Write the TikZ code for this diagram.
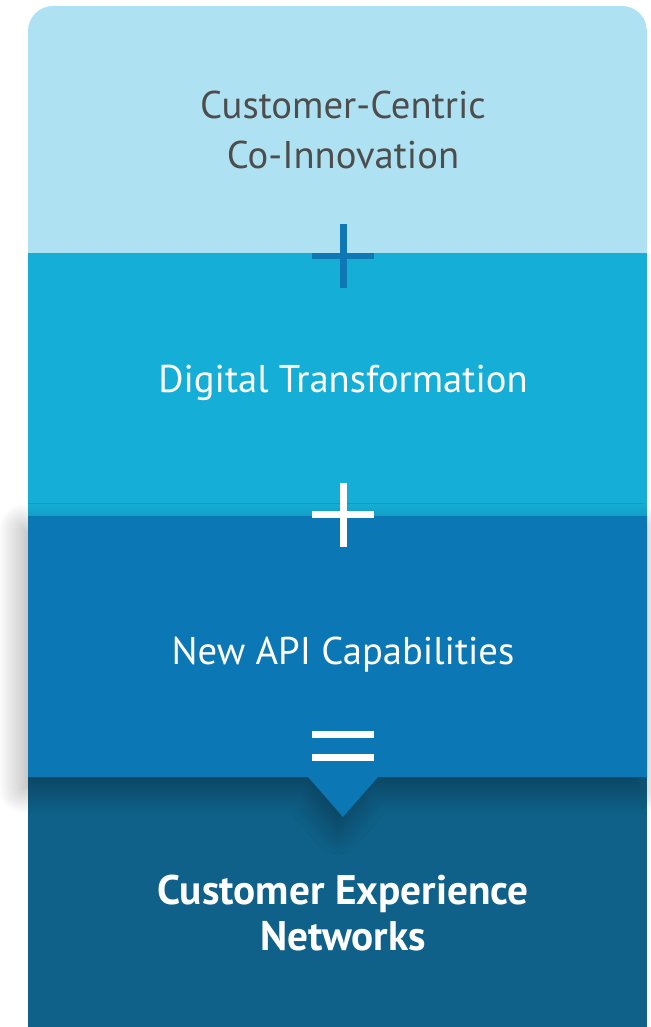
\documentclass[tikz,border=0pt]{standalone}
\usepackage{fontspec}
\setmainfont{PT Sans}
\usetikzlibrary{shadows.blur}
\definecolor{bandA}{HTML}{AEE2F2}
\definecolor{bandB}{HTML}{15AED7}
\definecolor{bandC}{HTML}{0C77B5}
\definecolor{bandD}{HTML}{0F6189}
\definecolor{signA}{HTML}{1077B5}
\definecolor{greytext}{HTML}{4D4D4D}

\begin{document}
\begin{tikzpicture}[x=0.02cm,y=-0.02cm,
	bandtext/.style={font=\fontsize{22}{28.4}\selectfont, align=center, text=white},
	opsign/.style={line width=0.14cm}]
			%%%%% START %%%%%
			\useasboundingbox (0,0) rectangle (650,1027);
			
			\begin{scope}
				\clip[rounded corners=0.5cm] (28,6) rectangle (647,1060);
				\fill[bandA] (28,6) rectangle (647,253);
				\fill[bandB] (28,253) rectangle (647,516);
			\end{scope}
			
			\fill[bandD] (28,777) rectangle (647,1027);
			\fill[bandC, blur shadow={shadow xshift=-3pt, shadow yshift=-7pt, shadow blur radius=14pt, shadow blur steps=25, shadow opacity=35}]
				(28,516) -- (647,516) -- (647,777) -- (378,777) -- (343,817) -- (308,777) -- (28,777) -- cycle;
			
			% plus, plus, equals
			\draw[opsign, signA] (312,256) -- (374,256) (343,224) -- (343,288);
			\draw[opsign, white] (312,514) -- (374,514) (343,483) -- (343,547);
			\draw[opsign, white] (312,734) -- (374,734) (312,757.5) -- (374,757.5);
			
			\node[bandtext, text=greytext] (cocreate) at (343,130) {Customer-Centric\\Co-Innovation};
			\node[bandtext] (digital) at (343,383) {Digital Transformation};
			\node[bandtext] (newapi) at (343,655) {New API Capabilities};
			\node[bandtext, font=\bfseries\fontsize{23.5}{26.7}\selectfont] (cxnet) at (343,913) {Customer Experience\\Networks};
			%%%%% END %%%%%
\end{tikzpicture}
\end{document}
